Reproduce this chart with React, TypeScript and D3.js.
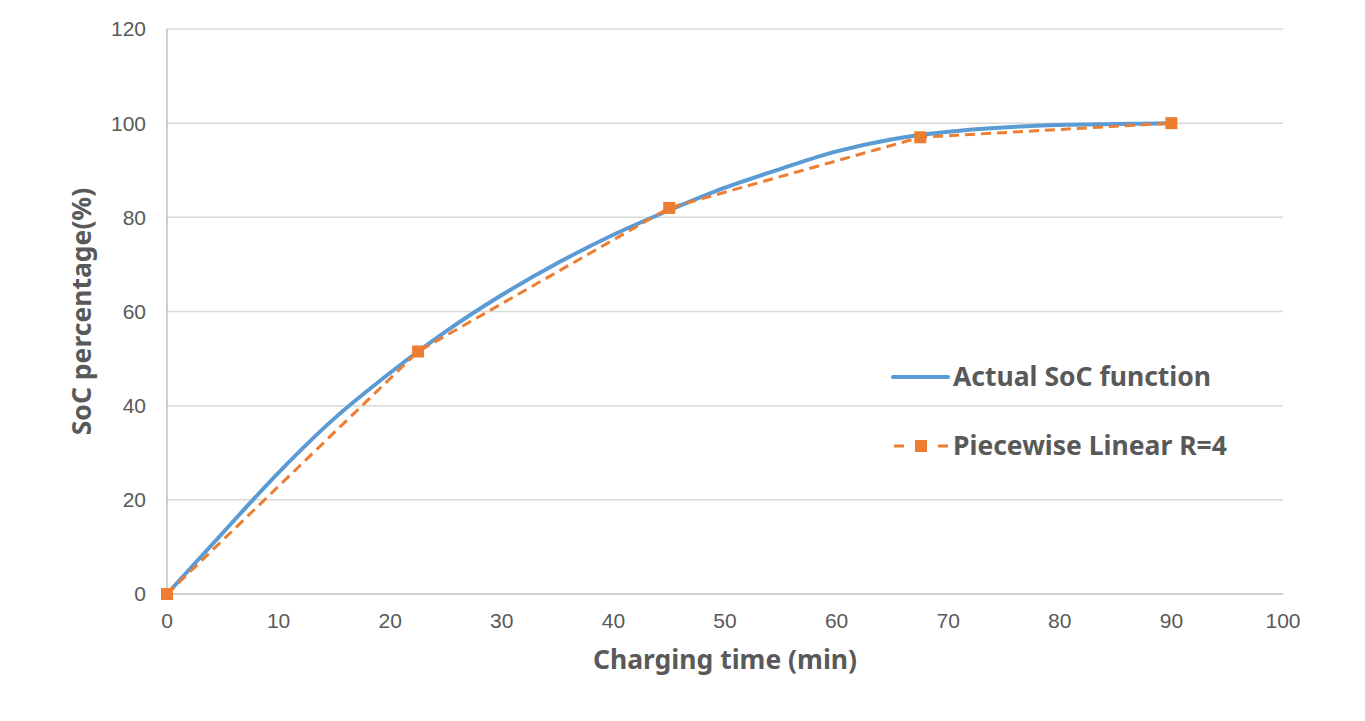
import React from "react";
import * as d3 from "d3";

// 실제 SoC 곡선
const actualTime = [0, 5, 10, 15, 20, 25, 30, 35, 40, 45, 50, 55, 60, 65, 70, 75, 80, 85, 90];
const actualSoc = [0, 13, 25.8, 37.3, 47, 55.8, 63.5, 70.3, 76.3, 81.5, 86.3, 90.3, 94, 96.6, 98.2, 99.1, 99.6, 99.8, 100];

// 구간 선형 근사 (R=4)
const linearTime = [0, 22.5, 45, 67.5, 90];
const linearSoc = [0, 51.5, 82, 97, 100];

const xTicks = [0, 10, 20, 30, 40, 50, 60, 70, 80, 90, 100];
const yTicks = [0, 20, 40, 60, 80, 100, 120];

const seriesNames = ["Actual SoC function", "Piecewise Linear R=4"];

const W = 1365;
const H = 721;
const margin = { top: 29, right: 82, bottom: 127, left: 167 };

const BLUE = "#5B9BD5";
const ORANGE = "#ED7D31";
const TEXT = "#595959";
const tickFont = "'Liberation Sans', Arial, sans-serif";
const titleFont = "'Noto Sans', 'Open Sans', sans-serif";

const App: React.FC = () => {
  const x = d3.scaleLinear().domain([0, 100]).range([margin.left, W - margin.right]);
  const y = d3.scaleLinear().domain([0, 120]).range([H - margin.bottom, margin.top]);

  const actual = actualTime.map((t, i) => [t, actualSoc[i]] as [number, number]);
  const linear = linearTime.map((t, i) => [t, linearSoc[i]] as [number, number]);

  const smoothLine = d3
    .line<[number, number]>()
    .x((d) => x(d[0]))
    .y((d) => y(d[1]))
    .curve(d3.curveCatmullRom.alpha(0.5));
  const straightLine = d3
    .line<[number, number]>()
    .x((d) => x(d[0]))
    .y((d) => y(d[1]));

  const x0 = x(0);
  const x1 = x(100);
  const yBase = y(0);

  const legendX = 893;
  const legendY = [377, 446];

  return (
    <svg width={W} height={H} style={{ position: "absolute", left: 0, top: 0, background: "#fff" }}>
      {/* 가로 격자선 */}
      {yTicks.filter((t) => t > 0).map((t) => (
        <line key={t} x1={x0} x2={x1} y1={y(t)} y2={y(t)} stroke="#D9D9D9" strokeWidth={1.5} />
      ))}
      {/* 축 */}
      <line x1={x0} x2={x0} y1={y(120)} y2={yBase} stroke="#BFBFBF" strokeWidth={1.5} />
      <line x1={x0} x2={x1} y1={yBase} y2={yBase} stroke="#BFBFBF" strokeWidth={1.5} />

      {/* 눈금 라벨 */}
      {yTicks.map((t) => (
        <text key={t} x={x0 - 21} y={y(t)} dy="0.35em" textAnchor="end" fontSize={21}
          fontFamily={tickFont} fill={TEXT}>{t}</text>
      ))}
      {xTicks.map((t) => (
        <text key={t} x={x(t)} y={yBase + 34} textAnchor="middle" fontSize={21}
          fontFamily={tickFont} fill={TEXT}>{t}</text>
      ))}

      {/* 축 제목 */}
      <text x={(x0 + x1) / 2} y={669} textAnchor="middle" fontSize={26.5} fontWeight="bold"
        fontFamily={titleFont} fill={TEXT}>Charging time (min)</text>
      <text transform={`translate(91,${(y(120) + yBase) / 2}) rotate(-90)`} textAnchor="middle"
        fontSize={26.5} fontWeight="bold" fontFamily={titleFont} fill={TEXT}>SoC percentage(%)</text>

      {/* 실제 SoC */}
      <path d={smoothLine(actual) ?? ""} fill="none" stroke={BLUE} strokeWidth={4}
        strokeLinejoin="round" strokeLinecap="round" />
      {/* 구간 선형 */}
      <path d={straightLine(linear) ?? ""} fill="none" stroke={ORANGE} strokeWidth={3}
        strokeDasharray="10,6" />
      {linear.map((d, i) => (
        <rect key={i} x={x(d[0]) - 6} y={y(d[1]) - 6} width={12} height={12} fill={ORANGE} />
      ))}

      {/* 범례 */}
      <line x1={legendX} x2={legendX + 55} y1={legendY[0]} y2={legendY[0]} stroke={BLUE}
        strokeWidth={4} strokeLinecap="round" />
      <text x={legendX + 60} y={legendY[0]} dy="0.35em" fontSize={26.5} fontWeight="bold"
        fontFamily={titleFont} fill={TEXT}>{seriesNames[0]}</text>
      <line x1={legendX} x2={legendX + 55} y1={legendY[1]} y2={legendY[1]} stroke={ORANGE}
        strokeWidth={3} strokeDasharray="10,12" strokeDashoffset={-1} />
      <rect x={legendX + 22} y={legendY[1] - 6} width={12} height={12} fill={ORANGE} />
      <text x={legendX + 60} y={legendY[1]} dy="0.35em" fontSize={26.5} fontWeight="bold"
        fontFamily={titleFont} fill={TEXT}>{seriesNames[1]}</text>
    </svg>
  );
};

export default App;
